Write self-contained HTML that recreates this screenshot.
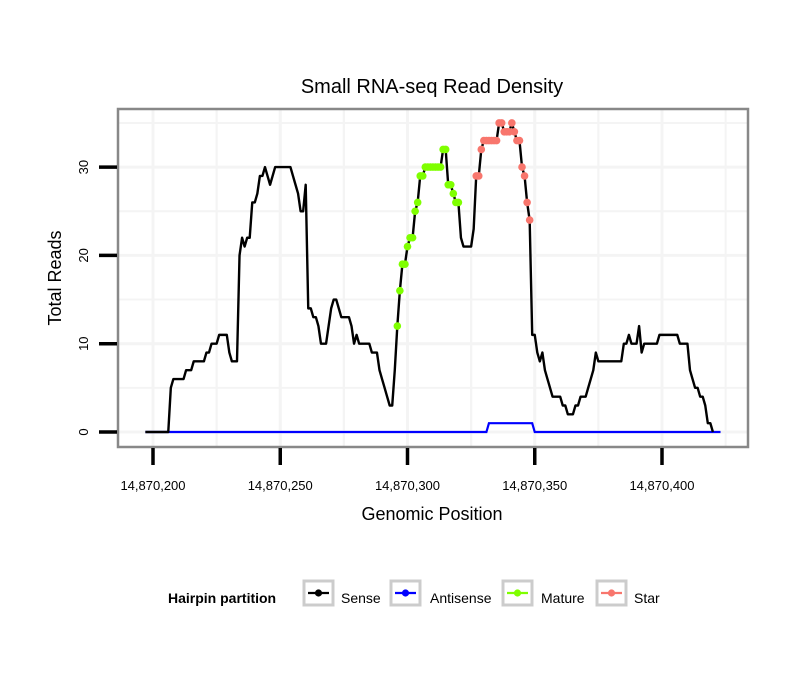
<!DOCTYPE html>
<html><head><meta charset="utf-8"><style>
body{margin:0;background:#fff;}
svg text{font-family:"Liberation Sans",sans-serif;}
</style></head><body>
<svg id="chart" width="810" height="690">
<rect x="0" y="0" width="810" height="690" fill="#fff"/>
<text x="432" y="93" font-size="20" text-anchor="middle">Small RNA-seq Read Density</text>
<g id="grid"></g>
<g id="series"></g>
<rect x="118" y="109" width="630" height="338" fill="none" stroke="#888" stroke-width="2.5"/>
<g id="axes"></g>
<text x="432" y="520" font-size="18" text-anchor="middle">Genomic Position</text>
<text transform="translate(61,278) rotate(-90)" font-size="18" text-anchor="middle">Total Reads</text>
<g>
<text x="168" y="603" font-size="14" font-weight="bold">Hairpin partition</text>
<g id="legend"></g>
</g>
</svg>
<script>
const startPos = 14870197;
const sense = [0,0,0,0,0,0,0,0,0,0, 5,6,6,6,6,6,7,7,7,8, 8,8,8,8,9,9,10,10,10,11,
11,11,11,9,8,8,8,20,22,21, 22,22,26,26,27,29,29,30,29,28,
29,30,30,30,30,30,30,30,29,28,27, 25,25,28,14,14,13,13,12,10,10,
10,12,14,15,15,14,13,13,13,13, 12,10,11,10,10,10,10,10,9,9,
9,7,6,5,4,3,3,7,12,16, 19,19,21,22,22,25,26,29,29,30,
30,30,30,30,30,30,32,32,28,28, 27,26,26,22,21,21,21,21,23,29,
29,32,33,33,33,33,33,33,35,35, 34,34,34,35,34,33,33,30,29,26,
24,11,11,9,8,9,7,6,5,4, 4,4,4,3,3,2,2,2,3,3,
4,4,4,5,6,7,9,8,8,8, 8,8,8,8,8,8,8,10,10,11,
10,10,10,12,9,10,10,10,10,10, 10,11,11,11,11,11,11,11,11,10,
10,10,10,7,6,5,5,4,4,3, 1,1,0];
const antisenseStart = 14870197;
const antisenseEnd = 14870423;
const antisenseOnStart = 14870332;
const antisenseOnEnd = 14870349;
const antisenseOnValue = 1;
const matureRange = [14870296, 14870320];
const starRange = [14870327, 14870348];
const xTicks = [14870200,14870250,14870300,14870350,14870400];
const xTickLabels = ["14,870,200","14,870,250","14,870,300","14,870,350","14,870,400"];
const yTicks = [0,10,20,30];
const legendLabels = ["Sense","Antisense","Mature","Star"];
const legendColors = ["#000","#0000ff","#7fff00","#f8766d"];

const NS="http://www.w3.org/2000/svg";
function X(p){return 153+(p-14870200)*2.545;}
function Y(v){return 432-v*8.83;}
function mk(tag,attrs,parent){const e=document.createElementNS(NS,tag);for(const k in attrs)e.setAttribute(k,attrs[k]);parent.appendChild(e);return e;}
const grid=document.getElementById('grid'),series=document.getElementById('series'),axes=document.getElementById('axes'),legend=document.getElementById('legend');
for(let i=0;i<xTicks.length;i++){
  for(const p of [xTicks[i], xTicks[i]+25, xTicks[i]-25]){
    const x=X(p); if(x<119||x>747) continue;
    const g=mk('line',{x1:x,x2:x,y1:110,y2:446,stroke:'#f4f4f4','stroke-width':p===xTicks[i]?3:2},grid);
    
    
  }
}
for(let v=0;v<=35;v+=5){
  const y=Y(v); if(y<110) continue;
  const g=mk('line',{x1:119,x2:747,y1:y,y2:y,stroke:'#f4f4f4','stroke-width':v%10===0?3:2},grid);
  
  
}
let ap=[];
for(let p=antisenseStart;p<=antisenseEnd;p++){const v=(p>=antisenseOnStart&&p<=antisenseOnEnd)?antisenseOnValue:0;ap.push(X(p)+','+Y(v));}
const al=mk('polyline',{points:ap.join(' '),fill:'none',stroke:'#0000ff','stroke-width':2.2},series);


let sp=sense.map((v,i)=>X(startPos+i)+','+Y(v));
const sl=mk('polyline',{points:sp.join(' '),fill:'none',stroke:'#000','stroke-width':2.4,'stroke-linejoin':'round'},series);


sense.forEach((v,i)=>{
  const p=startPos+i; let c=null,n='';
  if(p>=matureRange[0]&&p<=matureRange[1]){c='#7fff00';n='mature-point';}
  else if(p>=starRange[0]&&p<=starRange[1]){c='#f8766d';n='star-point';}
  if(c){const d=mk('circle',{cx:X(p),cy:Y(v),r:3.8,fill:c},series);
    
    }
});
xTicks.forEach((p,i)=>{
  const t=mk('line',{x1:X(p),x2:X(p),y1:448,y2:465,stroke:'#000','stroke-width':3.5},axes);
  
  
  const l=mk('text',{x:X(p),y:490,'font-size':13,'text-anchor':'middle'},axes);
  l.textContent=xTickLabels[i];
  
  
});
yTicks.forEach(v=>{
  const t=mk('line',{x1:99,x2:117,y1:Y(v),y2:Y(v),stroke:'#000','stroke-width':3.5},axes);
  
  
  const l=mk('text',{transform:'translate('+88+','+Y(v)+') rotate(-90)','font-size':13,'text-anchor':'middle'},axes);
  l.textContent=String(v);
  
  
});
const boxX=[304,391,503,597], labX=[341,430,541,634];
legendLabels.forEach((lab,i)=>{
  const g=mk('g',{},legend);
  
  
  mk('rect',{x:boxX[i],y:581,width:29,height:24,fill:'#fff',stroke:'#ccc','stroke-width':3},g);
  mk('line',{x1:boxX[i]+4,x2:boxX[i]+25,y1:593,y2:593,stroke:legendColors[i],'stroke-width':2.2},g);
  mk('circle',{cx:boxX[i]+14.5,cy:593,r:3.6,fill:legendColors[i]},g);
  const t=mk('text',{x:labX[i],y:603,'font-size':14},g);
  t.textContent=lab;
});
</script>
</body></html>
